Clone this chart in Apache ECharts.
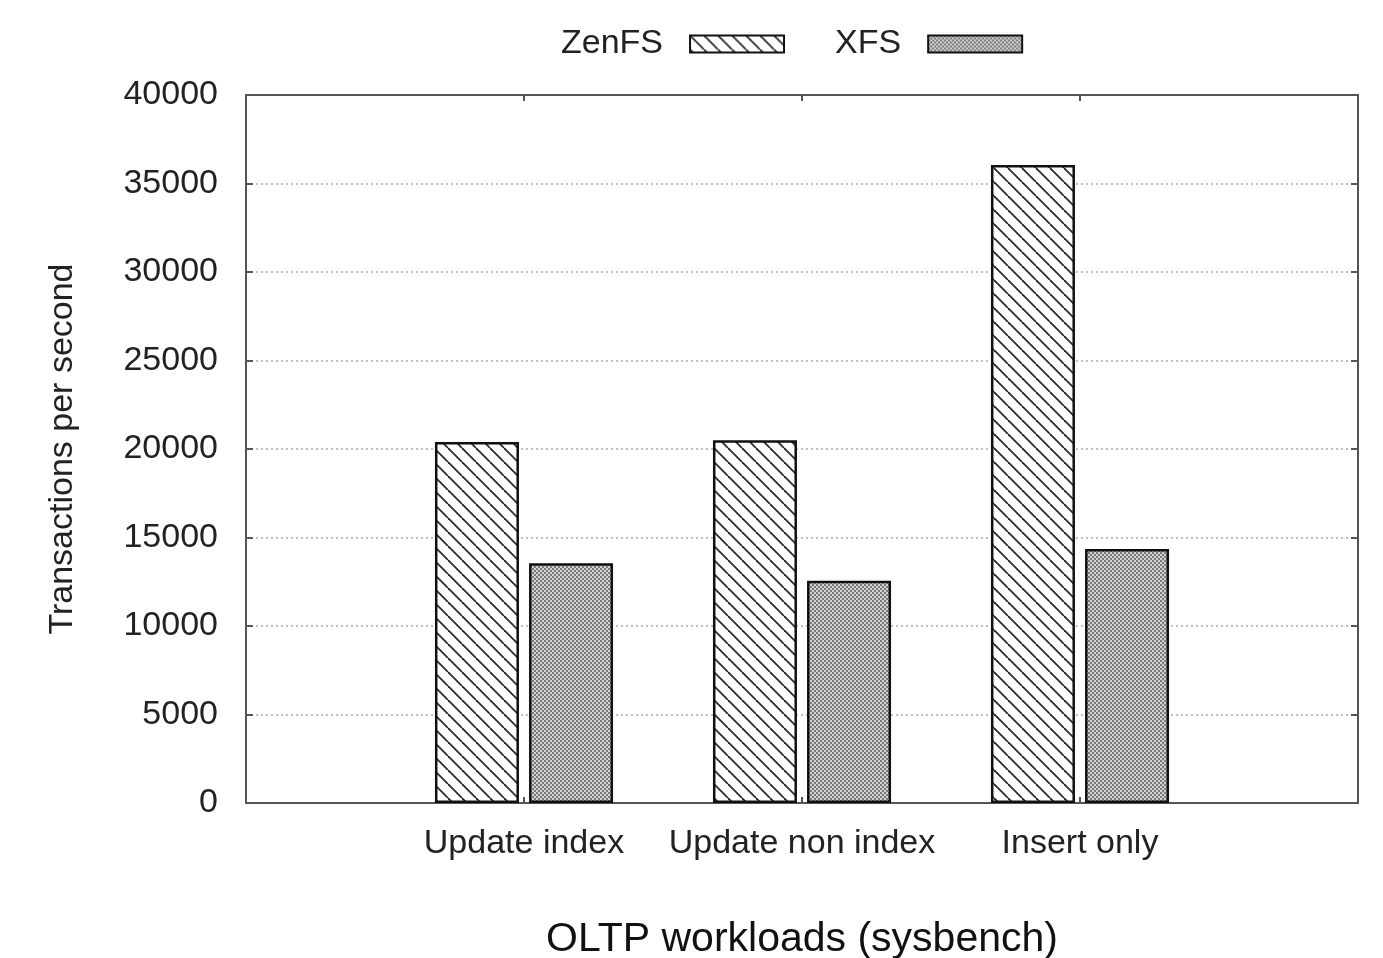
<!DOCTYPE html>
<html><head><meta charset="utf-8">
<script src="https://cdn.jsdelivr.net/npm/echarts@6/dist/echarts.min.js"></script>
<style>html,body{margin:0;padding:0;background:#fff}#c{width:1383px;height:958px}</style>
</head><body><div id="c"></div>
<script>
const categories = ['', 'Update index', 'Update non index', 'Insert only', ''];
const zenfs = [null, 20400, 20500, 36050, null];
const xfs = [null, 13550, 12550, 14350, null];
const yTicks = [0, 5000, 10000, 15000, 20000, 25000, 30000, 35000, 40000];

function hatch() {
  const s = 14, c = document.createElement('canvas');
  c.width = s; c.height = s;
  const g = c.getContext('2d');
  g.fillStyle = '#fff'; g.fillRect(0, 0, s, s);
  g.strokeStyle = '#2a2a2a'; g.lineWidth = 1.8;
  for (const o of [-s, 0, s]) {
    g.beginPath(); g.moveTo(o, 0); g.lineTo(o + s, s); g.stroke();
  }
  return c;
}
function checker() {
  const c = document.createElement('canvas');
  c.width = 4; c.height = 4;
  const g = c.getContext('2d');
  g.fillStyle = '#d4d4d4'; g.fillRect(0, 0, 4, 4);
  g.fillStyle = '#7a7a7a';
  g.fillRect(0, 0, 2, 2); g.fillRect(2, 2, 2, 2);
  return c;
}
const font = 'Liberation Sans, Arial, sans-serif';
const chart = echarts.init(document.getElementById('c'), null, {renderer: 'canvas'});
chart.setOption({
  animation: false,
  backgroundColor: '#fff',
  textStyle: {fontFamily: font},
  legend: {
    top: 22, left: 556, align: 'right', icon: 'rect',
    itemWidth: 94, itemHeight: 17, itemGap: 50,
    textStyle: {fontSize: 34, color: '#222', fontFamily: font, padding: [0, 22, 0, 0]},
    data: ['ZenFS', 'XFS']
  },
  grid: {left: 246, right: 25, top: 95, bottom: 155, containLabel: false, outerBoundsMode: 'none'},
  xAxis: [{
    type: 'category', data: categories, boundaryGap: false,
    name: 'OLTP workloads (sysbench)', nameLocation: 'middle', nameGap: 116,
    nameTextStyle: {fontSize: 41, color: '#111', fontFamily: font},
    axisLine: {onZero: false, lineStyle: {color: '#555', width: 2}},
    axisTick: {show: true, inside: true, length: 6, lineStyle: {color: '#555', width: 2}},
    axisLabel: {fontSize: 34, color: '#222', margin: 24, interval: 0},
    splitLine: {show: false}
  }, {
    type: 'category', data: categories, boundaryGap: false, position: 'top',
    axisLine: {show: true, onZero: false, lineStyle: {color: '#555', width: 2}},
    axisTick: {show: true, inside: true, length: 6, lineStyle: {color: '#555', width: 2}},
    axisLabel: {show: false}, splitLine: {show: false}
  }],
  yAxis: [{
    type: 'value', min: 0, max: 40000, interval: 5000,
    name: 'Transactions per second', nameLocation: 'middle', nameGap: 166,
    nameTextStyle: {fontSize: 34, color: '#222', fontFamily: font},
    axisLine: {show: true, onZero: false, lineStyle: {color: '#555', width: 2}},
    axisTick: {show: true, inside: true, length: 7, lineStyle: {color: '#555', width: 2}},
    axisLabel: {fontSize: 34, color: '#222', margin: 28, formatter: v => String(v)},
    splitLine: {show: true, lineStyle: {color: '#aaa', width: 1.5, type: [2, 3]}}
  }, {
    type: 'value', min: 0, max: 40000, interval: 5000, position: 'right',
    axisLine: {show: true, onZero: false, lineStyle: {color: '#555', width: 2}},
    axisTick: {show: true, inside: true, length: 7, lineStyle: {color: '#555', width: 2}},
    axisLabel: {show: false}, splitLine: {show: false}
  }],
  series: [{
    name: 'ZenFS', type: 'bar', data: zenfs, barWidth: 84, barGap: '12%',
    itemStyle: {color: {image: hatch(), repeat: 'repeat'}, borderColor: '#111', borderWidth: 2.5}
  }, {
    name: 'XFS', type: 'bar', data: xfs, barWidth: 84, barGap: '12%',
    itemStyle: {color: {image: checker(), repeat: 'repeat'}, borderColor: '#111', borderWidth: 2.5}
  }]
});
</script></body></html>
